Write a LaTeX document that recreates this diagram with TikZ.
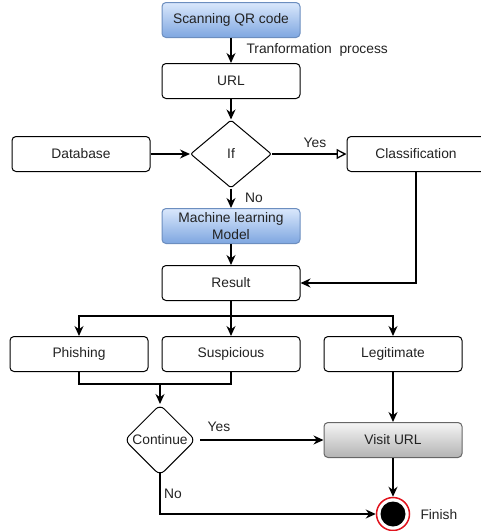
\documentclass[tikz,border=0pt]{standalone}
\usepackage{fontspec}
\setmainfont{Liberation Sans}
\usetikzlibrary{arrows.meta,shapes.geometric}
\definecolor{blueTop}{HTML}{DAE8FC}
\definecolor{blueBot}{HTML}{7EA6E0}
\definecolor{blueLine}{HTML}{6C8EBF}
\definecolor{grayTop}{HTML}{F5F5F5}
\definecolor{grayBot}{HTML}{B3B3B3}
\definecolor{grayLine}{HTML}{666666}
\definecolor{endRed}{HTML}{E0141E}
\definecolor{inkGray}{HTML}{222222}
\tikzset{
  box/.style={draw, rounded corners=4pt, minimum width=138pt, minimum height=35pt,
    align=center, inner sep=1pt, text=inkGray},
  bluebox/.style={box, draw=blueLine, top color=blueTop, bottom color=blueBot},
  graybox/.style={box, draw=grayLine, top color=grayTop, bottom color=grayBot},
  decision/.style={draw, diamond, inner sep=0pt, rounded corners=2pt, text=inkGray},
  flow/.style={-{Stealth[length=10pt,width=9pt]}, line width=1.3pt},
  lbl/.style={text=inkGray, inner sep=0pt}
}

\begin{document}
\begin{tikzpicture}[x=1pt, y=-1pt, line width=1pt,
    font=\fontsize{13.8}{17}\selectfont]
			%%%%% START %%%%%
			\useasboundingbox (0, 0) rectangle (481, 531);
			
			\node[bluebox] (scan) at (231, 20) {Scanning QR code};
			\node[box] (url) at (231, 81) {URL};
			\node[decision, minimum width=81pt, minimum height=68pt] (if) at (231, 154) {If};
			\node[box] (db) at (81, 154) {Database};
			\node[box] (class) at (416, 154) {Classification};
			\node[bluebox] (ml) at (231, 226) {Machine learning\\Model};
			\node[box] (res) at (231, 283) {Result};
			
			\node[box] (phish) at (79, 354) {Phishing};
			\node[box] (susp) at (231, 354) {Suspicious};
			\node[box] (legit) at (393, 354) {Legitimate};
			
			\node[decision, rounded corners=6pt, minimum width=71pt, minimum height=71pt] (cont) at (160, 440) {Continue};
			\node[graybox] (visit) at (393, 440) {Visit URL};
			
			\node[circle, draw=endRed, fill=white, line width=1.5pt, minimum size=33pt] (fin) at (393, 514) {};
			\fill[black] (fin.center) circle (12.5);
			
			\coordinate (split) at (231, 316);
			\coordinate (join) at (160, 384);
			
			% labels
			\node[lbl, anchor=west] (tlbl) at (246, 50) {Tranformation\ \ process};
			\node[lbl] (ylbl1) at (315, 143) {Yes};
			\node[lbl] (nlbl1) at (254, 198) {No};
			\node[lbl] (ylbl2) at (219, 427) {Yes};
			\node[lbl] (nlbl2) at (173, 494) {No};
			\node[lbl, anchor=west] (flbl) at (420, 515) {Finish};
			
			% connectors
			\draw[flow] (scan) -- (url);
			\draw[flow] (url) -- (if);
			\draw[flow] (db) -- (if);
			\draw[-{Triangle[open, length=10pt, width=10pt]}, line width=1.3pt] (if) -- (class);
			\draw[flow] (if) -- (ml);
			\draw[flow] (ml) -- (res);
			\draw[flow] (class.south) |- (res.east);
			
			\draw[line width=1.3pt] (res.south) -- (split);
			\draw[flow] (split) -- (susp);
			\draw[flow] (split) -| (phish.north);
			\draw[flow] (split) -| (legit.north);
			
			\draw[line width=1.3pt] (phish.south) |- (join) -| (susp.south);
			\draw[flow] (join) -- (cont.north);
			\draw[flow] ([xshift=4pt]cont.east) -- (visit.west);
			\draw[flow] (legit) -- (visit);
			\draw[flow] (visit) -- (fin);
			\draw[flow] ([yshift=4pt]cont.south) |- (fin.west);
			
			%%%%% END %%%%%
		\end{tikzpicture}
\end{document}
